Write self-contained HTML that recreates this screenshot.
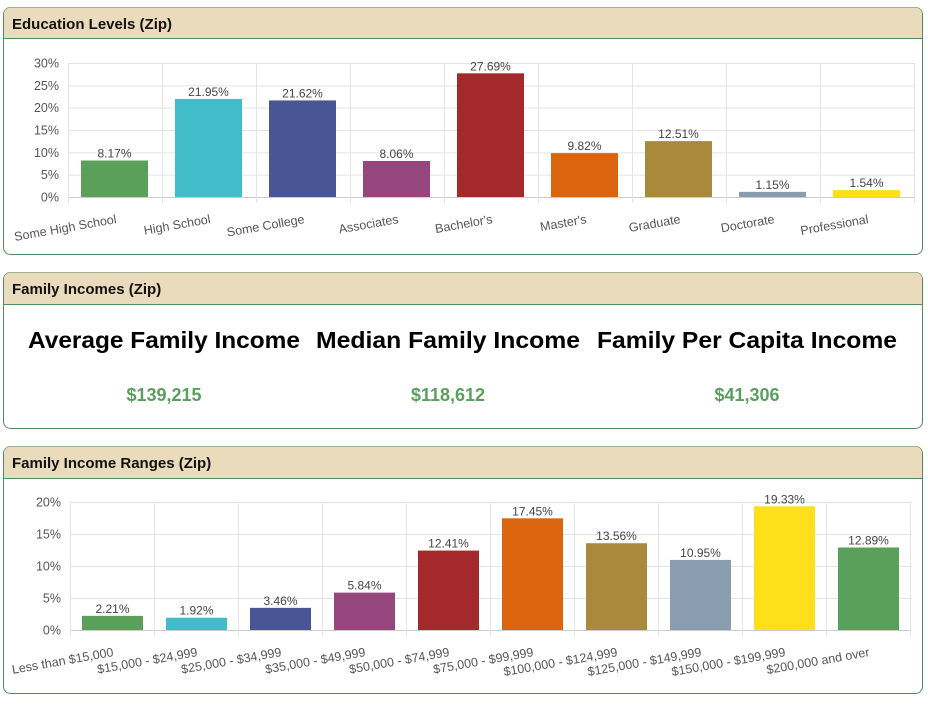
<!DOCTYPE html>
<html><head><meta charset="utf-8"><style>
body{margin:0;background:#fff;font-family:"Liberation Sans",sans-serif;}
svg{display:block}
</style></head><body>
<svg id="s" width="928" height="705" xmlns="http://www.w3.org/2000/svg" font-family="Liberation Sans, sans-serif">
  <g>
    <rect x="3.5" y="7.5" width="919" height="247" rx="7" fill="#fff" stroke="#4f8f5f"/>
    <path d="M4 38 V14 a6.5 6.5 0 0 1 6.5 -6.5 H915.5 a6.5 6.5 0 0 1 6.5 6.5 V38 Z" fill="#e9dbbb"/>
    <line x1="4" y1="38.5" x2="922" y2="38.5" stroke="#4f8f5f"/>
    <text x="12" y="29" font-size="15" font-weight="bold" fill="#111">Education Levels (Zip)</text>
    <g id="c1"></g>
  </g>
  <g>
    <rect x="3.5" y="272.5" width="919" height="156" rx="7" fill="#fff" stroke="#4f8f5f"/>
    <path d="M4 304 V279 a6.5 6.5 0 0 1 6.5 -6.5 H915.5 a6.5 6.5 0 0 1 6.5 6.5 V304 Z" fill="#e9dbbb"/>
    <line x1="4" y1="304.5" x2="922" y2="304.5" stroke="#4f8f5f"/>
    <text x="12" y="294" font-size="15" font-weight="bold" fill="#111">Family Incomes (Zip)</text>
    <text x="164" y="348" text-anchor="middle" font-size="23" font-weight="bold" textLength="272" lengthAdjust="spacingAndGlyphs">Average Family Income</text>
    <text x="448" y="348" text-anchor="middle" font-size="23" font-weight="bold" textLength="264" lengthAdjust="spacingAndGlyphs">Median Family Income</text>
    <text x="747" y="348" text-anchor="middle" font-size="23" font-weight="bold" textLength="300" lengthAdjust="spacingAndGlyphs">Family Per Capita Income</text>
    <text x="164" y="401" text-anchor="middle" font-size="18" font-weight="bold" fill="#5a9f5e">$139,215</text>
    <text x="448" y="401" text-anchor="middle" font-size="18" font-weight="bold" fill="#5a9f5e">$118,612</text>
    <text x="747" y="401" text-anchor="middle" font-size="18" font-weight="bold" fill="#5a9f5e">$41,306</text>
  </g>
  <g>
    <rect x="3.5" y="446.5" width="919" height="247" rx="7" fill="#fff" stroke="#4f8f5f"/>
    <path d="M4 478 V453 a6.5 6.5 0 0 1 6.5 -6.5 H915.5 a6.5 6.5 0 0 1 6.5 6.5 V478 Z" fill="#e9dbbb"/>
    <line x1="4" y1="478.5" x2="922" y2="478.5" stroke="#4f8f5f"/>
    <text x="12" y="468" font-size="15" font-weight="bold" fill="#111">Family Income Ranges (Zip)</text>
    <g id="c2"></g>
  </g>
</svg>
<script>
const eduCats=["Some High School","High School","Some College","Associates","Bachelor's","Master's","Graduate","Doctorate","Professional"];
const eduVals=[8.17,21.95,21.62,8.06,27.69,9.82,12.51,1.15,1.54];
const eduTicks=[0,5,10,15,20,25,30];
const incCats=["Less than $15,000","$15,000 - $24,999","$25,000 - $34,999","$35,000 - $49,999","$50,000 - $74,999","$75,000 - $99,999","$100,000 - $124,999","$125,000 - $149,999","$150,000 - $199,999","$200,000 and over"];
const incVals=[2.21,1.92,3.46,5.84,12.41,17.45,13.56,10.95,19.33,12.89];
const incTicks=[0,5,10,15,20];
const palette=["#5aa05a","#42bcc8","#485696","#96477d","#a4292a","#db650f","#a98a3c","#8a9db0","#fde01a"];
const NS="http://www.w3.org/2000/svg";
function mk(p,t,a){const e=document.createElementNS(NS,t);for(const k in a)e.setAttribute(k,a[k]);p.appendChild(e);return e;}
function chart(g,cats,vals,ticks,o){
  const max=ticks[ticks.length-1];
  const step=(o.x1-o.x0)/cats.length;
  const y=v=>o.yb-(v/max)*(o.yb-o.yt);
  const x=i=>o.x0+i*step;
  ticks.forEach(t=>{
    const l=mk(g,"line",{x1:o.x0,x2:o.x1,y1:y(t)+.5,y2:y(t)+.5,stroke:t===0?"#ccc":"#e3e3e3"});
    
    
    const tx=mk(g,"text",{x:o.x0-9,y:y(t)+4.5,"text-anchor":"end","font-size":"12.5",fill:"#555"});
    tx.textContent=t+"%";
    
    
  });
  for(let i=0;i<=cats.length;i++){
    const l=mk(g,"line",{x1:x(i)+.5,x2:x(i)+.5,y1:o.yt,y2:o.yb+6,stroke:"#e3e3e3"});
    
    
  }
  cats.forEach((c,i)=>{
    const v=vals[i];
    const b=mk(g,"rect",{x:x(i)+o.off,y:y(v),width:o.bw,height:o.yb-y(v),fill:palette[i%palette.length]});
    
    
    const vt=mk(g,"text",{x:x(i)+o.off+o.bw/2,y:y(v)-3,"text-anchor":"middle","font-size":"12",fill:"#444"});
    vt.textContent=v.toFixed(2)+"%";
    
    
    const cx=x(i)+step/2+2, cy=o.yb+o.ly;
    const lt=mk(g,"text",{x:cx,y:cy,"text-anchor":"end","font-size":"12.5",fill:"#555",transform:`rotate(-10 ${cx} ${cy})`});
    lt.textContent=c;
    
    
  });
}
chart(document.getElementById("c1"),eduCats,eduVals,eduTicks,{x0:68,x1:914,yt:63,yb:197,bw:67,off:13,ly:26});
chart(document.getElementById("c2"),incCats,incVals,incTicks,{x0:70,x1:910,yt:502,yb:630,bw:61,off:12,ly:26});
</script>
</body></html>
